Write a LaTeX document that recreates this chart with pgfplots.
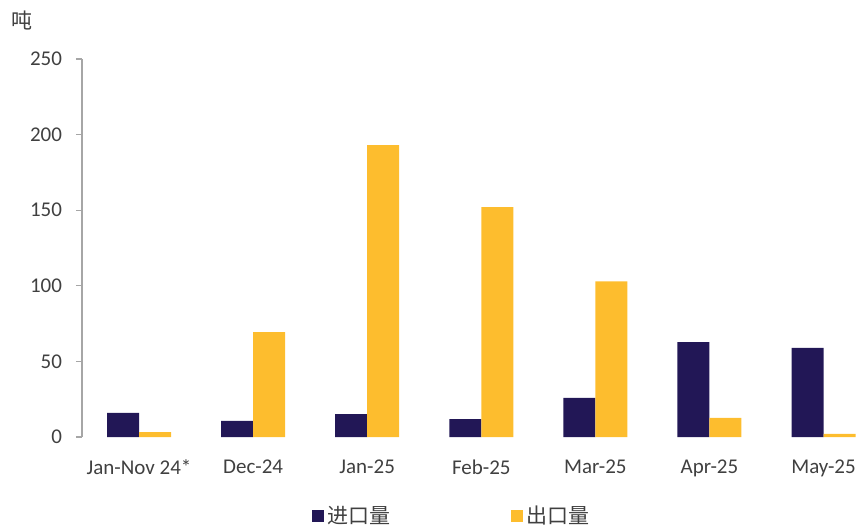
\documentclass[border=0pt]{standalone}
\usepackage{fontspec}
\setmainfont{Carlito}
\newfontfamily\cjk{Noto Sans CJK SC}
\usepackage{pgfplots}
\pgfplotsset{compat=1.18}
\definecolor{navy}{HTML}{221756}
\definecolor{gold}{HTML}{FDBD2E}
\definecolor{txt}{HTML}{404040}
\definecolor{axisgray}{HTML}{A6A6A6}
\begin{document}
\begin{tikzpicture}
\useasboundingbox (0,0) rectangle (434pt,263pt);
\begin{axis}[
  at={(41pt,44.5pt)}, anchor=south west,
  scale only axis, width=393pt, height=189pt,
  ybar=0pt, bar width=16pt,
  ymin=0, ymax=250, ytick={0,50,...,250},
  xmin=-0.5, xmax=6.39,
  xtick={0,...,6},
  xticklabels={Jan-Nov 24*,Dec-24,Jan-25,Feb-25,Mar-25,Apr-25,May-25},
  axis lines=left, axis line style={-},
  x axis line style={draw=none},
  y axis line style={axisgray, line width=0.6pt},
  tick align=outside,
  x tick style={draw=none}, major x tick style={draw=none},
  y tick style={axisgray, line width=0.6pt},
  major tick length=3pt,
  /pgf/number format/assume math mode=true,
  tick label style={font=\fontsize{10.5}{12}\selectfont, text=txt},
  xticklabel style={yshift=-5pt},
  yticklabel style={xshift=-3.5pt},
  legend style={at={(rel axis cs:0.472,-0.209)}, anchor=center, draw=none, fill=none,
    legend columns=2, font=\cjk\fontsize{10.5}{12}\selectfont, text=txt,
    /tikz/every even column/.append style={column sep=58pt},
    legend cell align=left},
  legend image code/.code={\fill[#1] (0pt,-3pt) rectangle (6pt,3pt);},
  clip=false,
]
\addplot[fill=navy, draw=none] coordinates {(0,15.9) (1,10.6) (2,15.2) (3,11.9) (4,25.8) (5,62.8) (6,58.9)};
\addplot[fill=gold, draw=none] coordinates {(0,3.3) (1,69.4) (2,193) (3,152) (4,103) (5,12.6) (6,2)};
\legend{进口量,出口量}
\node[text=txt, font=\cjk\fontsize{10.5}{12}\selectfont] at (rel axis cs:-0.076,1.103) {吨};
\end{axis}
\end{tikzpicture}
\end{document}
